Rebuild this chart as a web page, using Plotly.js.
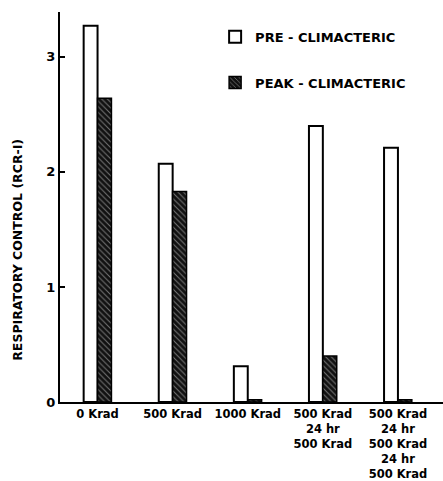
<!DOCTYPE html>
<html>
<head>
<meta charset="utf-8">
<script src="https://cdn.plot.ly/plotly-3.0.1.min.js"></script>
<style>html,body{margin:0;padding:0;background:#fff;}#chart{width:443px;height:481px;}</style>
</head>
<body>
<div id="chart"></div>
<script>
var categories = ["0 Krad", "500 Krad", "1000 Krad", "500 Krad<br>24 hr<br>500 Krad", "500 Krad<br>24 hr<br>500 Krad<br>24 hr<br>500 Krad"];
var preClimacteric = [3.27, 2.07, 0.31, 2.40, 2.21];
var peakClimacteric = [2.64, 1.83, 0.02, 0.40, 0.02];
var seriesNames = ["PRE - CLIMACTERIC", "PEAK - CLIMACTERIC"];
var yTicks = [0, 1, 2, 3];

var F = "DejaVu Sans, Arial, sans-serif";
var traces = [
  {type: "bar", x: categories, y: preClimacteric, name: seriesNames[0], legendgroup: "a",
   marker: {color: "#ffffff", line: {color: "#000000", width: 2}}},
  {type: "bar", x: categories, y: peakClimacteric, name: seriesNames[1], legendgroup: "b",
   marker: {color: "#111111", line: {color: "#000000", width: 1.5},
            pattern: {shape: "\\", fgcolor: "#777777", bgcolor: "#111111", size: 4, solidity: 0.25}}}
];
var layout = {
  width: 443, height: 481,
  margin: {l: 60, r: 0, t: 12, b: 79},
  paper_bgcolor: "#ffffff", plot_bgcolor: "#ffffff",
  barmode: "group", bargap: 0.63, bargroupgap: 0,
  font: {family: F, color: "#000000"},
  xaxis: {type: "category", range: [-0.5, 4.6], showline: true, linecolor: "#000", linewidth: 2,
          ticks: "", showgrid: false, zeroline: false,
          tickfont: {family: F, size: 11.5, weight: "bold", color: "#000"}},
  yaxis: {range: [0, 3.39], showline: true, linecolor: "#000", linewidth: 2, ticks: "inside",
          ticklen: 5, tickwidth: 2, tickcolor: "#000", tickvals: yTicks, showgrid: false, zeroline: false,
          tickfont: {family: F, size: 13, weight: "bold", color: "#000"}},
  legend: {x: 0.405, y: 0.975, xanchor: "left", yanchor: "top", tracegroupgap: 26,
           font: {family: F, size: 13, weight: "bold", color: "#000"}, bgcolor: "rgba(0,0,0,0)"},
  annotations: [{text: "RESPIRATORY CONTROL (RCR-I)", xref: "paper", yref: "paper", x: -0.11, y: 0.39,
                 textangle: -90, showarrow: false, xanchor: "center", yanchor: "middle",
                 font: {family: F, size: 12.5, weight: "bold", color: "#000"}}]
};
Plotly.newPlot("chart", traces, layout, {displayModeBar: false, staticPlot: true});
</script>
</body>
</html>
